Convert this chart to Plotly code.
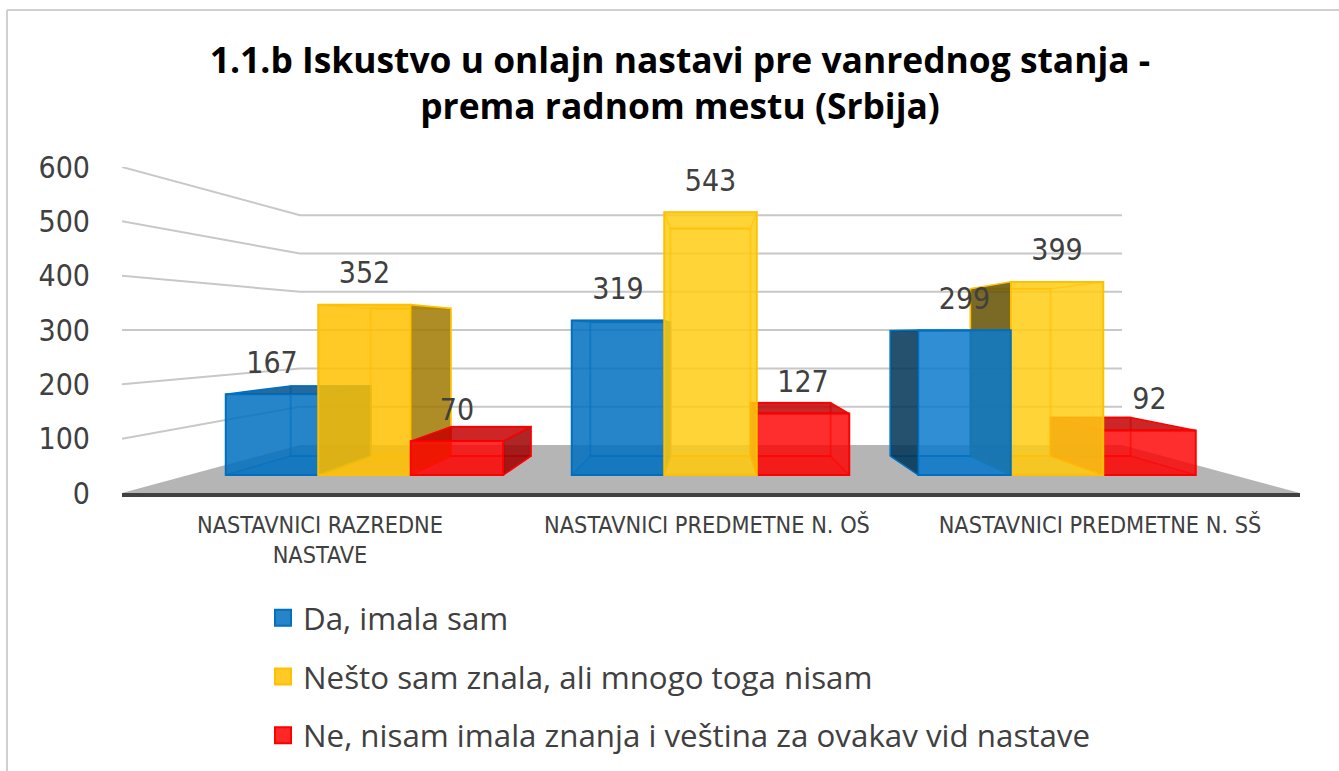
import plotly.graph_objects as go

# ---- data ----
CATEGORIES = ["NASTAVNICI RAZREDNE<br>NASTAVE", "NASTAVNICI PREDMETNE N. OŠ", "NASTAVNICI PREDMETNE N. SŠ"]
SERIES_NAMES = ["Da, imala sam", "Nešto sam znala, ali mnogo toga nisam", "Ne, nisam imala znanja i veština za ovakav vid nastave"]
DA = [167, 319, 299]
NESTO = [352, 543, 399]
NE = [70, 127, 92]
Y_TICKS = [0, 100, 200, 300, 400, 500, 600]
TITLE = "1.1.b Iskustvo u onlajn nastavi pre vanrednog stanja -<br>prema radnom mestu (Srbija)"

# ---- styles / geometry of the pseudo-3D projection ----
W, H = 1339, 771
L, R, T, B = 122, 1300, 167, 493
PX_PER_UNIT = (B - T) / 600
FRONT_BASE, FRONT_SCALE = 475, 0.484
BACK_BASE, BACK_SCALE = 456, 0.419
DEPTH_F, VANISH_X = 0.866, 710
WALL_X0, WALL_X1, WALL_BASE, WALL_SCALE = 300, 1122, 445, 0.383
GROUP_CENTERS = [364.5, 710.5, 1057]
BAR_W = 92.5
TEXT = "#404040"
NARROW = "DejaVu Sans Condensed, DejaVu Sans"
BASE = [(0, 112, 192), (255, 192, 0), (255, 0, 0)]
FRONT = [
    ["rgba(0,112,192,.85)", "rgba(0,112,192,.85)", "rgba(10,122,205,.85)"],
    ["rgba(255,192,0,.85)", "rgba(255,205,20,.85)", "rgba(255,205,20,.85)"],
    ["rgba(255,0,0,.82)", "rgba(255,0,0,.82)", "rgba(255,0,0,.82)"],
]
TOP = ["rgba(0,80,140,.85)", "rgba(190,145,0,.85)", "rgba(195,0,0,.85)"]
SIDE_R = ["rgba(0,80,140,.85)", "rgba(160,120,0,.85)", "rgba(160,0,0,.85)"]
SIDE_L = ["rgba(0,50,85,.85)", "rgba(100,80,0,.85)", "rgba(190,0,0,.85)"]
# painter's order (back to front) of the series in each group
DRAW_ORDER = [[0, 1, 2], [0, 2, 1], [2, 1, 0]]

VALUES = [DA, NESTO, NE]


def ax_y(px):
    return (B - px) / PX_PER_UNIT


def back_x(x):
    return VANISH_X + (x - VANISH_X) * DEPTH_F


def paper_x(px):
    return (px - L) / (R - L)


def paper_y(px):
    return (B - px) / (B - T)


def poly(xs, ys, axis, fill=None, line=None, width=1.5, closed=True):
    xs, ys = list(xs), list(ys)
    if closed:
        xs.append(xs[0])
        ys.append(ys[0])
    return go.Scatter(
        x=xs, y=[ax_y(p) for p in ys], mode="lines",
        fill="toself" if fill else "none", fillcolor=fill,
        line=dict(color=line or "rgba(0,0,0,0)", width=width),
        xaxis=f"x{axis}" if axis > 1 else "x", yaxis=f"y{axis}" if axis > 1 else "y",
        hoverinfo="skip", showlegend=False,
    )


fig = go.Figure()

# side-wall + back-wall gridlines
for t in Y_TICKS[1:]:
    back_y = WALL_BASE - WALL_SCALE * t
    fig.add_trace(poly([L, WALL_X0, WALL_X1], [B - PX_PER_UNIT * t, back_y, back_y], 1,
                       line="#C8C8C8", width=2, closed=False))
# floor
fig.add_trace(poly([L, WALL_X0, WALL_X1, R], [B, WALL_BASE, WALL_BASE, B], 1, fill="#B5B5B5"))

# legend carriers
for s, name in enumerate(SERIES_NAMES):
    r, g, b = BASE[s]
    fig.add_trace(go.Scatter(
        x=[None], y=[None], mode="markers", name=name, legendgroup=name,
        marker=dict(symbol="square", size=16, color=f"rgba({r},{g},{b},.85)",
                    line=dict(color=f"rgb({r},{g},{b})", width=2)),
    ))

# bars
for c, center in enumerate(GROUP_CENTERS):
    for rank, s in enumerate(DRAW_ORDER[c]):
        layer = 2 + rank
        v = VALUES[s][c]
        r, g, b = BASE[s]
        edge = f"rgb({r},{g},{b})"
        soft = f"rgba({r},{g},{b},.55)"
        x0 = center + (s - 1) * BAR_W - BAR_W / 2
        x1 = x0 + BAR_W
        bx0, bx1 = back_x(x0), back_x(x1)
        ft, bt = FRONT_BASE - FRONT_SCALE * v, BACK_BASE - BACK_SCALE * v
        # back outline, bottom, top (only when seen from above), visible side
        fig.add_trace(poly([bx0, bx1, bx1, bx0], [BACK_BASE, BACK_BASE, bt, bt], layer, line=soft, width=2))
        fig.add_trace(poly([x0, x1, bx1, bx0], [FRONT_BASE, FRONT_BASE, BACK_BASE, BACK_BASE], layer,
                           fill=f"rgba({r},{g},{b},.18)", line=soft, width=1.5))
        if bt < ft:
            fig.add_trace(poly([x0, x1, bx1, bx0], [ft, ft, bt, bt], layer, fill=TOP[s], line=edge, width=1.5))
        else:
            fig.add_trace(poly([x0, x1, bx1, bx0], [ft, ft, bt, bt], layer, line=soft, width=1.5))
        if bx1 > x1:
            fig.add_trace(poly([x1, bx1, bx1, x1], [FRONT_BASE, BACK_BASE, bt, ft], layer,
                               fill=SIDE_R[s], line=edge, width=1.5))
        if bx0 < x0:
            fig.add_trace(poly([x0, bx0, bx0, x0], [FRONT_BASE, BACK_BASE, bt, ft], layer,
                               fill=SIDE_L[s], line=edge, width=1.5))
        fig.add_trace(go.Bar(
            x=[(x0 + x1) / 2], y=[FRONT_SCALE * v / PX_PER_UNIT], base=[ax_y(FRONT_BASE)],
            width=BAR_W, marker=dict(color=FRONT[s][c], line=dict(color=edge, width=2)),
            name=SERIES_NAMES[s], showlegend=False, hoverinfo="skip",
            xaxis=f"x{layer}", yaxis=f"y{layer}",
        ))

# data labels on the top layer
lx, ly, lt = [], [], []
for c, center in enumerate(GROUP_CENTERS):
    for s in range(3):
        v = VALUES[s][c]
        lx.append(center + (s - 1) * BAR_W)
        ly.append(ax_y(FRONT_BASE - FRONT_SCALE * v - 29))
        lt.append(str(v))
fig.add_trace(go.Scatter(
    x=lx, y=ly, text=lt, mode="text", textposition="middle center", showlegend=False, hoverinfo="skip",
    textfont=dict(family=NARROW, size=30, color=TEXT), xaxis="x4", yaxis="y4", cliponaxis=False,
))

layout_axes = {}
for i in (2, 3, 4):
    layout_axes[f"xaxis{i}"] = dict(overlaying="x", range=[L, R], visible=False, fixedrange=True)
    layout_axes[f"yaxis{i}"] = dict(overlaying="y", range=[0, 600], visible=False, fixedrange=True)

fig.update_layout(
    width=W, height=H, autosize=False,
    margin=dict(l=L, r=W - R, t=T, b=H - B, autoexpand=False),
    paper_bgcolor="white", plot_bgcolor="white", barmode="overlay", showlegend=True,
    title=dict(text=TITLE, x=680 / W, xanchor="center", y=1 - 73 / H, yanchor="middle",
               font=dict(family="Open Sans", size=35.4, color="black", weight="bold")),
    xaxis=dict(range=[L, R], tickmode="array", tickvals=[320, 707, 1100], ticktext=CATEGORIES,
               tickfont=dict(family=NARROW, size=23.3, color=TEXT),
               ticks="outside", ticklen=8, tickcolor="rgba(0,0,0,0)", showgrid=False, zeroline=False,
               showline=True, linecolor="#404040", linewidth=4, fixedrange=True),
    yaxis=dict(range=[0, 600], tickmode="array", tickvals=Y_TICKS,
               tickfont=dict(family=NARROW, size=30, color=TEXT),
               ticks="outside", ticklen=25, tickcolor="rgba(0,0,0,0)", showgrid=False, zeroline=False,
               showline=False, fixedrange=True),
    legend=dict(x=paper_x(263), y=paper_y(591), xanchor="left", yanchor="top", traceorder="grouped",
                tracegroupgap=15, itemsizing="trace", bgcolor="rgba(0,0,0,0)",
                font=dict(family="Open Sans", size=31.3, color=TEXT)),
    shapes=[
        dict(type="line", xref="paper", yref="paper", x0=paper_x(7), x1=paper_x(W), y0=paper_y(10), y1=paper_y(10),
             line=dict(color="#D0D0D0", width=2)),
        dict(type="line", xref="paper", yref="paper", x0=paper_x(7), x1=paper_x(7), y0=paper_y(10), y1=paper_y(H),
             line=dict(color="#D0D0D0", width=2)),
    ],
    **layout_axes,
)

fig.write_html("out.html", config={"displayModeBar": False}, post_script="document.body.style.margin='0';")
